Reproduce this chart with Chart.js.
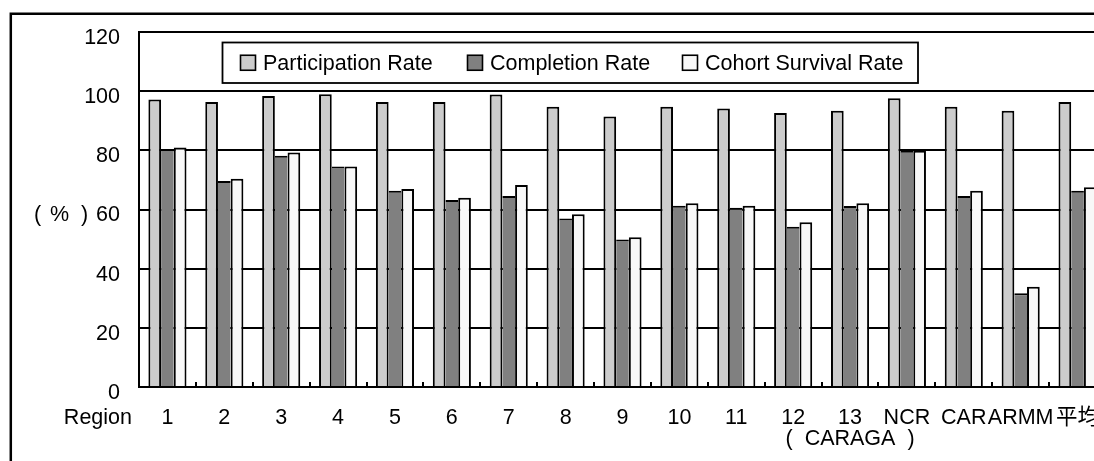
<!DOCTYPE html>
<html>
<head>
<meta charset="utf-8">
<script src="https://cdn.jsdelivr.net/npm/chart.js@4.4.1/dist/chart.umd.min.js"></script>
<style>
  html, body { margin: 0; padding: 0; background: #fff; overflow: hidden; }
  canvas { display: block; }
</style>
</head>
<body>
<canvas id="chart" width="1130" height="461"></canvas>
<script>
// Regions (the last one is the national average)
const categories = ['1', '2', '3', '4', '5', '6', '7', '8', '9', '10', '11', '12',
  ['13', '(  CARAGA  )'], 'NCR', 'CAR', 'ARMM', '平均'];

// Rates in percent
const participationRate = [97.2, 96.3, 98.4, 99.0, 96.3, 96.3, 98.9, 94.7, 91.4, 94.7, 94.1, 92.6, 93.4, 97.6, 94.7, 93.4, 96.3];
const completionRate    = [80.3, 69.6, 78.2, 74.5, 66.3, 63.2, 64.6, 57.0, 49.9, 61.3, 60.6, 54.2, 61.2, 79.9, 64.6, 31.7, 66.3];
const cohortSurvivalRate = [81.0, 70.4, 79.3, 74.5, 66.9, 64.0, 68.3, 58.4, 50.6, 62.1, 61.3, 55.7, 62.1, 79.9, 66.3, 33.9, 67.5];

const seriesNames = ['Participation Rate', 'Completion Rate', 'Cohort Survival Rate'];
const yTickValues = [0, 20, 40, 60, 80, 100, 120];
const xAxisName = 'Region';
const yAxisName = ['(', '%', ')'];

const FONT_FAMILY = '"Liberation Sans", Arial, "Noto Sans CJK JP", sans-serif';
const FONT_SIZE = 21.5;
const X_TICK_PADDING = 20;
const Y_LABEL_OFFSET = 6;

// Outer frame of the chart object (its right and bottom edges fall outside the view)
const frame = {
  id: 'frame',
  beforeDraw(chart) {
    const { ctx, width, height } = chart;
    ctx.save();
    ctx.fillStyle = '#fff';
    ctx.fillRect(0, 0, width, height);
    ctx.strokeStyle = '#000';
    ctx.lineWidth = 2.5;
    ctx.beginPath();
    ctx.moveTo(10.8, height + 5);
    ctx.lineTo(10.8, 13.8);
    ctx.lineTo(width + 5, 13.8);
    ctx.stroke();
    ctx.restore();
  }
};

// Small inward tick marks between categories, axis names and the boxed legend
const decorations = {
  id: 'decorations',
  afterDatasetsDraw(chart) {
    const { ctx, chartArea } = chart;
    const xs = chart.scales.x, ys = chart.scales.y;
    ctx.save();

    // inward ticks on the category axis
    ctx.strokeStyle = '#000';
    ctx.lineWidth = 2;
    ctx.beginPath();
    for (let i = 1; i < categories.length; i++) {
      const bx = Math.round((xs.getPixelForValue(i - 1) + xs.getPixelForValue(i)) / 2);
      ctx.moveTo(bx, chartArea.bottom - 5);
      ctx.lineTo(bx, chartArea.bottom);
    }
    ctx.stroke();

    ctx.fillStyle = '#000';
    ctx.font = FONT_SIZE + 'px ' + FONT_FAMILY;
    ctx.textBaseline = 'middle';

    // category axis name, on the same row as the tick labels
    ctx.textAlign = 'right';
    ctx.fillText(xAxisName, 132, chartArea.bottom + X_TICK_PADDING + FONT_SIZE / 2);

    // value axis unit, on the row of the 60 tick
    const uy = ys.getPixelForValue(60) + Y_LABEL_OFFSET;
    ctx.textAlign = 'left';
    ctx.fillText(yAxisName[0], 34, uy);
    ctx.fillText(yAxisName[1], 50, uy);
    ctx.fillText(yAxisName[2], 81, uy);

    // legend box
    const bl = 222.5, bt = 42.5, bw = 695.5, bh = 40.5;
    ctx.fillStyle = '#fff';
    ctx.fillRect(bl, bt, bw, bh);
    ctx.lineWidth = 1.8;
    ctx.strokeRect(bl, bt, bw, bh);

    const itemX = [240.5, 467.5, 682.5];
    const cy = bt + bh / 2;
    chart.data.datasets.forEach((ds, i) => {
      ctx.fillStyle = ds.backgroundColor;
      ctx.fillRect(itemX[i], cy - 7.5, 15, 15);
      ctx.lineWidth = 1.6;
      ctx.strokeStyle = '#000';
      ctx.strokeRect(itemX[i], cy - 7.5, 15, 15);
      ctx.fillStyle = '#000';
      ctx.textAlign = 'left';
      ctx.fillText(ds.label, itemX[i] + 22.5, cy + 1);
    });
    ctx.restore();
  }
};

new Chart(document.getElementById('chart'), {
  type: 'bar',
  data: {
    labels: categories,
    datasets: [
      {
        label: seriesNames[0],
        data: participationRate,
        backgroundColor: '#cccccc',
        borderColor: '#000',
        borderWidth: { top: 2, left: 2, right: 2, bottom: 0 }
      },
      {
        label: seriesNames[1],
        data: completionRate,
        backgroundColor: '#808080',
        borderColor: '#000',
        borderWidth: { top: 2, left: 0, right: 0, bottom: 0 }
      },
      {
        label: seriesNames[2],
        data: cohortSurvivalRate,
        backgroundColor: '#f8f8f8',
        borderColor: '#000',
        borderWidth: { top: 2, left: 2, right: 2, bottom: 0 }
      }
    ]
  },
  options: {
    responsive: false,
    animation: false,
    devicePixelRatio: 1,
    layout: { padding: { left: 0, right: 24, top: 32, bottom: 0 } },
    datasets: {
      bar: { categoryPercentage: 0.67, barPercentage: 1.0, inflateAmount: 0 }
    },
    plugins: {
      legend: { display: false },
      tooltip: { enabled: false }
    },
    scales: {
      x: {
        type: 'category',
        offset: true,
        grid: { display: false, drawTicks: false },
        border: { display: true, color: '#000', width: 2 },
        ticks: {
          color: '#000',
          autoSkip: false,
          maxRotation: 0,
          minRotation: 0,
          padding: X_TICK_PADDING,
          font: { family: FONT_FAMILY, size: FONT_SIZE, lineHeight: 1.0 }
        },
        afterFit(scale) { scale.height = 74; }
      },
      y: {
        min: 0,
        max: 120,
        afterBuildTicks(scale) { scale.ticks = yTickValues.map(v => ({ value: v })); },
        grid: { color: '#000', lineWidth: 2, drawTicks: false },
        border: { display: true, color: '#000', width: 2 },
        ticks: {
          color: '#000',
          padding: 19,
          labelOffset: Y_LABEL_OFFSET,
          font: { family: FONT_FAMILY, size: FONT_SIZE }
        },
        afterFit(scale) { scale.width = 139; }
      }
    }
  },
  plugins: [frame, decorations]
});
</script>
</body>
</html>
